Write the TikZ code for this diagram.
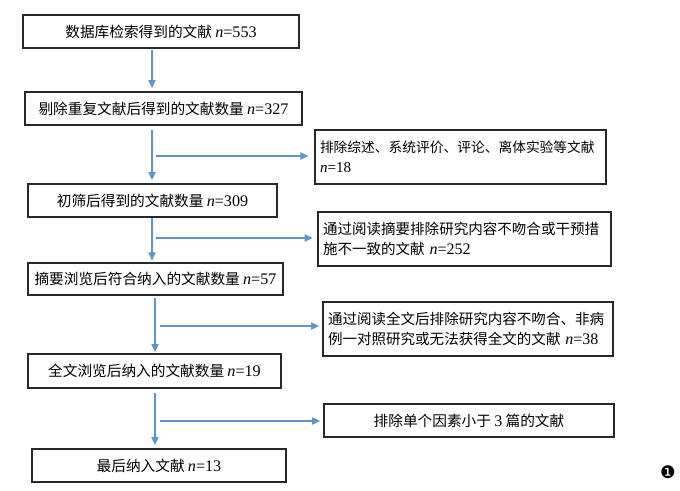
\documentclass[tikz,border=0pt]{standalone}
\usepackage{fontspec}
\setmainfont{Noto Sans CJK SC}
\newfontfamily\lat[Scale=1.1]{Liberation Serif}
\newfontfamily\dejavu{DejaVu Sans}
\usetikzlibrary{arrows.meta}
\definecolor{arrblue}{RGB}{96,148,204}
\definecolor{boxline}{RGB}{40,40,40}
\newcommand\nval[1]{{\lat\textit{n}=#1}}
\tikzset{
  cbox/.style n args={2}{draw=boxline, line width=1.1pt, inner sep=0pt, outer sep=0pt,
     minimum width=#1*0.75pt, minimum height=#2*0.75pt, align=center,
     font=\fontsize{11}{15}\selectfont},
  rbox/.style n args={2}{draw=boxline, line width=1.1pt, inner xsep=3.75pt, inner ysep=0pt, outer sep=0pt,
     text width=#1*0.75pt-7.5pt, minimum height=#2*0.75pt, align=left,
     font=\fontsize{10.9}{15}\selectfont},
  arr/.style={draw=arrblue, line width=0.8pt, -{Triangle[length=6pt,width=5.5pt]}},
  ln/.style={draw=arrblue, line width=0.8pt}
}
\begin{document}
\begin{tikzpicture}[x=0.75pt,y=-0.75pt]
\useasboundingbox (0,0) rectangle (680,490);
\fill[white] (0,0) rectangle (680,490);
% main column
\node[cbox={276}{33}] (b1) at (161,31.5) {数据库检索得到的文献 \nval{553}};
\node[cbox={277}{33}] (b2) at (163.5,108.5) {剔除重复文献后得到的文献数量 \nval{327}};
\node[cbox={249}{33}] (b4) at (152.5,200.5) {初筛后得到的文献数量 \nval{309}};
\node[cbox={255}{32}] (b6) at (155.5,279) {摘要浏览后符合纳入的文献数量 \nval{57}};
\node[cbox={253}{34}] (b8) at (154.5,371) {全文浏览后纳入的文献数量 \nval{19}};
\node[cbox={254}{33}] (b10) at (159,465.5) {最后纳入文献 \nval{13}};
% right column
\node[rbox={291}{54}, font=\fontsize{10.3}{15}\selectfont] (b3) at (460.5,157) {排除综述、系统评价、评论、离体实验等文献\\\nval{18}};
\node[rbox={293}{54}] (b5) at (464.5,239) {通过阅读摘要排除研究内容不吻合或干预措\\施不一致的文献 \nval{252}};
\node[rbox={290}{54}] (b7) at (468,329) {通过阅读全文后排除研究内容不吻合、非病\\例一对照研究或无法获得全文的文献 \nval{38}};
\node[cbox={290}{33}] (b9) at (469,420.5) {排除单个因素小于 {\lat 3} 篇的文献};
% vertical x positions
\coordinate (vA) at (152,0);
\coordinate (vB) at (155,0);
% connectors
\draw[arr] ([yshift=-1.5pt]b1.south -| vA) -- ([yshift=3pt]b2.north -| vA);
\draw[arr] ([yshift=-3.5pt]b2.south -| vA) -- ([yshift=3pt]b4.north -| vA);
\draw[arr] ([yshift=-1pt]b4.south -| vA) -- ([yshift=2pt]b6.north -| vA);
\draw[arr] ([yshift=-2.5pt]b6.south -| vB) -- ([yshift=1.5pt]b8.north -| vB);
\draw[arr] ([yshift=-3.5pt]b8.south -| vB) -- ([yshift=3pt]b10.north -| vB);
% branches
\coordinate (s3) at (156,156);
\coordinate (s5) at (156,238);
\coordinate (s7) at (160,326);
\coordinate (s9) at (160,421);
\draw[arr] (s3) -- ([xshift=-5pt]s3 -| b3.west);
\draw[arr] (s5) -- ([xshift=-4pt]s5 -| b5.west);
\draw[arr] (s7) -- ([xshift=-3pt]s7 -| b7.west);
\draw[arr] (s9) -- ([xshift=-3pt]s9 -| b9.west);
% marker
\node[font=\dejavu\fontsize{13}{13}\selectfont, inner sep=0pt] (mk) at (668,472) {❶};
\end{tikzpicture}
\end{document}
